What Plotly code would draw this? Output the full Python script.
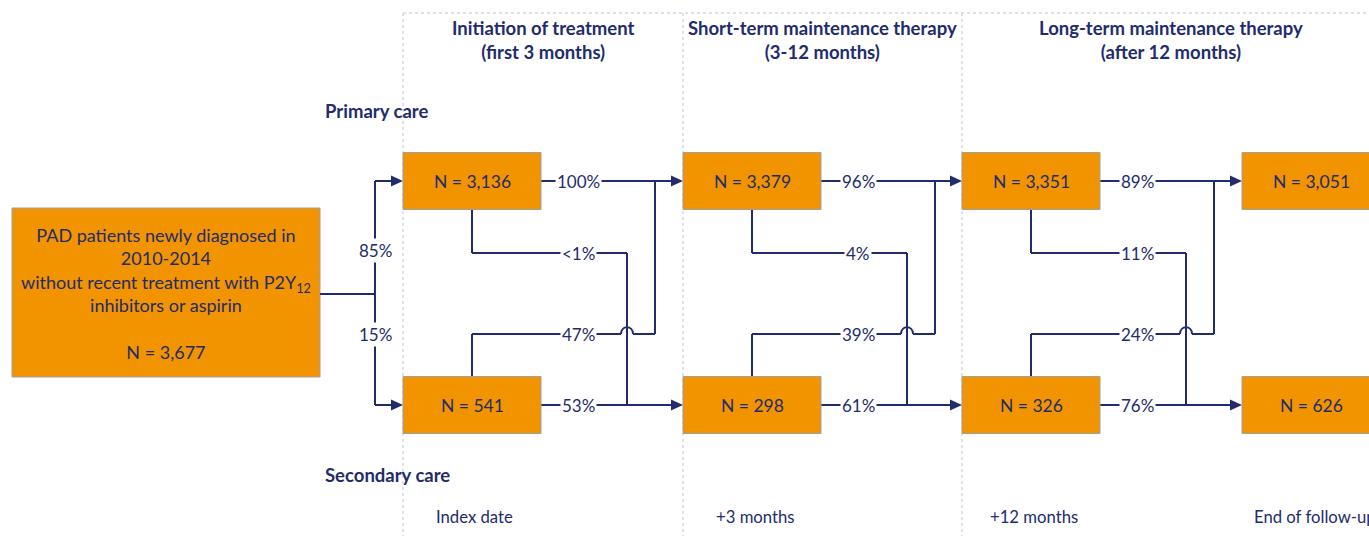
import plotly.graph_objects as go

# ---------------- data ----------------
stage_titles = ["Initiation of treatment<br>(first 3 months)",
                "Short-term maintenance therapy<br>(3-12 months)",
                "Long-term maintenance therapy<br>(after 12 months)"]
timepoints = ["Index date", "+3 months", "+12 months", "End of follow-up"]
primary_n = [3136, 3379, 3351, 3051]
secondary_n = [541, 298, 326, 626]
stay_primary = ["100%", "96%", "89%"]
primary_to_secondary = ["<1%", "4%", "11%"]
secondary_to_primary = ["47%", "39%", "24%"]
stay_secondary = ["53%", "61%", "76%"]
initial_total = 3677
initial_split = ["85%", "15%"]
initial_text = ("PAD patients newly diagnosed in<br>2010-2014<br>"
                "without recent treatment with P2Y<sub>12</sub><br>inhibitors or aspirin<br> <br>N = {:,}")

# ---------------- layout constants ----------------
W, H = 1369, 536
NAVY = "#222C6C"
ORANGE = "#F29300"
BORDER = "#A0A0A8"
GRID = "#BEC2D6"
FONT = "Lato"

col_x = [403, 683, 962, 1242]
box_w, box_h = 138, 57
y_prim, y_sec = 181, 405
lbl_dx, cross_dx, up_dx = 175, 224, 252
y_ps, y_sp = 253, 334

shapes, ann = [], []

def line(x0, y0, x1, y1, **kw):
    shapes.append(dict(type="line", x0=x0, y0=y0, x1=x1, y1=y1, xref="x", yref="y",
                       line=dict(color=kw.get("color", NAVY), width=kw.get("width", 2),
                                 dash=kw.get("dash", "solid")), layer=kw.get("layer", "above")))

def path(p, fill=None, width=2):
    shapes.append(dict(type="path", path=p, xref="x", yref="y",
                       line=dict(color=NAVY, width=width if fill is None else 0),
                       fillcolor=fill if fill else "rgba(0,0,0,0)", layer="above"))

def arrow(x_tip, y):
    path(f"M{x_tip},{y} L{x_tip-12},{y-5.5} L{x_tip-12},{y+5.5} Z", fill=NAVY)

def rect(x0, y0, x1, y1):
    shapes.append(dict(type="rect", x0=x0, y0=y0, x1=x1, y1=y1, xref="x", yref="y",
                       fillcolor=ORANGE, line=dict(color=BORDER, width=1), layer="above"))

def text(x, y, s, size=15, bold=False, bg=None, xanchor="center"):
    d = dict(x=x, y=y, xref="x", yref="y", text=f"<b>{s}</b>" if bold else s, showarrow=False,
             font=dict(family=FONT, size=size, color=NAVY), xanchor=xanchor, yanchor="middle")
    if bg:
        d.update(bgcolor=bg, borderpad=1)
    ann.append(d)

# dotted grid
line(col_x[0], 13, W + 5, 13, color=GRID, width=1, dash="dot", layer="below")
for cx in col_x[:3]:
    line(cx, 13, cx, H + 5, color=GRID, width=1, dash="dot", layer="below")

# headers
header_cx = [543, 822, 1171]
for t, cx in zip(stage_titles, header_cx):
    text(cx, 40, t, size=18.5, bold=True)
text(323, 111, "Primary care", size=18.5, bold=True, xanchor="left")
text(323, 475, "Secondary care", size=18.5, bold=True, xanchor="left")
tp_x = [434, 714, 988, 1252]
for t, x in zip(timepoints, tp_x):
    text(x, 517, t, size=16.7, xanchor="left")

# initial box and split
rect(12, 208, 320, 377)
text(166, 293, initial_text.format(initial_total), size=18)
line(320, 294, 375, 294)
line(375, y_prim, 375, y_sec)
line(375, y_prim, col_x[0] - 10, y_prim)
line(375, y_sec, col_x[0] - 10, y_sec)
arrow(col_x[0], y_prim)
arrow(col_x[0], y_sec)
text(375, 250, initial_split[0], size=17, bg="white")
text(375, 334, initial_split[1], size=17, bg="white")

# flows between stages
for i in range(3):
    x0 = col_x[i]
    bx = x0 + box_w
    bc = x0 + box_w / 2
    nx = col_x[i + 1]
    xl, xc, xu = x0 + lbl_dx, x0 + cross_dx, x0 + up_dx
    line(bx, y_prim, nx - 10, y_prim)
    arrow(nx, y_prim)
    line(bx, y_sec, nx - 10, y_sec)
    arrow(nx, y_sec)
    line(bc, y_prim + box_h / 2, bc, y_ps)
    line(bc, y_ps, xc, y_ps)
    line(xc, y_ps, xc, y_sec)
    line(bc, y_sec - box_h / 2, bc, y_sp)
    line(bc, y_sp, xc - 6, y_sp)
    path(f"M{xc-6},{y_sp} C{xc-6},{y_sp-9} {xc+6},{y_sp-9} {xc+6},{y_sp}")
    line(xc + 6, y_sp, xu, y_sp)
    line(xu, y_sp, xu, y_prim)
    text(xl, y_prim, stay_primary[i], size=17, bg="white")
    text(xl, y_ps, primary_to_secondary[i], size=17, bg="white")
    text(xl, y_sp, secondary_to_primary[i], size=17, bg="white")
    text(xl, y_sec, stay_secondary[i], size=17, bg="white")

# stage boxes
for i, x0 in enumerate(col_x):
    rect(x0, y_prim - box_h / 2, x0 + box_w, y_prim + box_h / 2)
    rect(x0, y_sec - box_h / 2, x0 + box_w, y_sec + box_h / 2)
    text(x0 + box_w / 2, y_prim, f"N = {primary_n[i]:,}", size=17.5)
    text(x0 + box_w / 2, y_sec, f"N = {secondary_n[i]:,}", size=17.5)

fig = go.Figure()
fig.add_trace(go.Scatter(x=[0, W], y=[0, H], mode="markers", marker=dict(opacity=0),
                         hoverinfo="skip", showlegend=False))
fig.update_layout(width=W, height=H, margin=dict(l=0, r=0, t=0, b=0),
                  plot_bgcolor="white", paper_bgcolor="white",
                  xaxis=dict(range=[0, W], visible=False, fixedrange=True),
                  yaxis=dict(range=[H, 0], visible=False, fixedrange=True),
                  shapes=shapes, annotations=ann, showlegend=False)
fig.write_html("out.html", config={"displayModeBar": False})

with open("out.html", encoding="utf-8") as f:
    html = f.read()
html = html.replace("<head>", "<head><style>html,body{margin:0;padding:0;overflow:hidden}</style>", 1)
with open("out.html", "w", encoding="utf-8") as f:
    f.write(html)
